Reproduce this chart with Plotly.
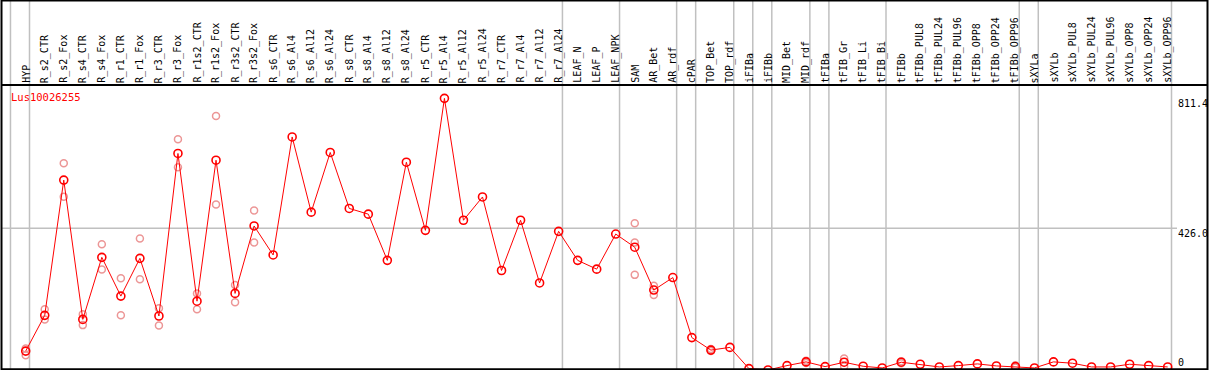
import plotly.graph_objects as go

categories = ["HYP", "R_s2_CTR", "R_s2_Fox", "R_s4_CTR", "R_s4_Fox", "R_r1_CTR", "R_r1_Fox",
              "R_r3_CTR", "R_r3_Fox", "R_r1s2_CTR", "R_r1s2_Fox", "R_r3s2_CTR", "R_r3s2_Fox",
              "R_s6_CTR", "R_s6_Al4", "R_s6_Al12", "R_s6_Al24", "R_s8_CTR", "R_s8_Al4",
              "R_s8_Al12", "R_s8_Al24", "R_r5_CTR", "R_r5_Al4", "R_r5_Al12", "R_r5_Al24",
              "R_r7_CTR", "R_r7_Al4", "R_r7_Al12", "R_r7_Al24", "LEAF_N", "LEAF_P", "LEAF_NPK",
              "SAM", "AR_Bet", "AR_rdf", "cPAR", "TOP_Bet", "TOP_rdf", "iFIBa", "iFIBb",
              "MID_Bet", "MID_rdf", "tFIBa", "tFIB_Gr", "tFIB_Li", "tFIB_Bi", "tFIBb",
              "tFIBb_PUL8", "tFIBb_PUL24", "tFIBb_PUL96", "tFIBb_OPP8", "tFIBb_OPP24",
              "tFIBb_OPP96", "sXYLa", "sXYLb", "sXYLb_PUL8", "sXYLb_PUL24", "sXYLb_PUL96",
              "sXYLb_OPP8", "sXYLb_OPP24", "sXYLb_OPP96"]

mean_values = [62, 168, 569, 156, 340, 225, 337, 166, 648, 210, 628, 233, 433,
               347, 697, 474, 651, 485, 468, 331, 622, 420, 811.4, 450, 519,
               301, 450, 264, 417, 331, 305, 409, 370, 243, 280, 102, 65, 73,
               10, 6, 19, 30, 16, 29, 17, 12, 29, 23, 15, 19, 24, 18, 16, 12,
               30, 26, 15, 15, 23, 19, 15]

# replicate values per category (empty where none visible apart from the mean)
replicates = {
    "HYP": [70, 50], "R_s2_CTR": [186, 156], "R_s2_Fox": [619, 520],
    "R_s4_CTR": [171, 139], "R_s4_Fox": [379, 304], "R_r1_CTR": [278, 168],
    "R_r1_Fox": [396, 275], "R_r3_CTR": [189, 138], "R_r3_Fox": [690, 607],
    "R_r1s2_CTR": [233, 186], "R_r1s2_Fox": [759, 497], "R_r3s2_CTR": [258, 207],
    "R_r3s2_Fox": [479, 384], "SAM": [441, 384, 288], "AR_Bet": [256, 228],
    "TOP_Bet": [68, 62], "MID_rdf": [33, 27], "tFIB_Gr": [40, 16],
    "tFIBb": [32, 26], "tFIBb_OPP96": [20, 13],
}

group_ends = [-1, 0, 28, 31, 34, 35, 37, 38, 39, 41, 42, 45, 52, 53, 60]
y_labels = ["811.4", "426.0", "0"]
gene_id = "Lus10026255"

W, H = 1209, 370
x_idx = list(range(len(categories)))
FONT = "DejaVu Sans Mono"

rep_x, rep_y = [], []
for i, c in enumerate(categories):
    for v in replicates.get(c, []):
        rep_x.append(i)
        rep_y.append(v)

fig = go.Figure()
fig.add_trace(go.Scatter(x=rep_x, y=rep_y, mode="markers",
                         marker=dict(symbol="circle-open", size=7, color="rgb(236,150,150)",
                                     line=dict(width=1.5)),
                         hoverinfo="skip"))
fig.add_trace(go.Scatter(x=x_idx, y=mean_values, mode="lines+markers",
                         line=dict(color="red", width=1),
                         marker=dict(symbol="circle-open", size=8, color="red",
                                     line=dict(width=1.6))))

plot_bottom_px, plot_top_px = 369.3, 85
ydom = [(H - plot_bottom_px) / H, (H - plot_top_px) / H]

fig.update_layout(
    width=W, height=H, margin=dict(l=0, r=0, t=0, b=0, autoexpand=False),
    paper_bgcolor="white", plot_bgcolor="white", showlegend=False,
    font=dict(family=FONT, size=10, color="black"),
    xaxis=dict(range=[-1.35, 62.17], domain=[0, 1], showticklabels=False, ticks="",
               showgrid=False, zeroline=False, showline=False, automargin=False),
    yaxis=dict(range=[8, 851], domain=ydom, showgrid=False, zeroline=False,
               showticklabels=False, showline=False, ticks="", automargin=False),
)

shapes = []
for g in group_ends:
    shapes.append(dict(type="line", xref="x", yref="paper", x0=g + 0.2, x1=g + 0.2,
                       y0=ydom[0], y1=1, line=dict(color="#c0c0c0", width=1.5), layer="below"))
shapes.append(dict(type="line", xref="paper", yref="y", x0=1 / W, x1=1177 / W,
                   y0=426, y1=426, line=dict(color="#c0c0c0", width=1.5), layer="below"))
# borders
shapes.append(dict(type="rect", xref="paper", yref="paper", x0=1.5 / W, x1=1207.5 / W,
                   y0=ydom[0], y1=1 - 0.5 / H, line=dict(color="black", width=2)))
shapes.append(dict(type="line", xref="paper", yref="paper", x0=1.5 / W, x1=1207.5 / W,
                   y0=ydom[1], y1=ydom[1], line=dict(color="black", width=2)))
fig.update_layout(shapes=shapes)

annotations = [
    dict(text=gene_id, xref="paper", yref="paper", x=9 / W, y=(H - 97) / H,
         xanchor="left", yanchor="middle", showarrow=False,
         font=dict(family=FONT, size=10.5, color="red")),
    dict(text=y_labels[0], xref="paper", yref="y", x=1176 / W, y=811.4,
         xanchor="left", yanchor="top", showarrow=False, yshift=2),
    dict(text=y_labels[1], xref="paper", yref="y", x=1176 / W, y=426,
         xanchor="left", yanchor="top", showarrow=False, yshift=2),
    dict(text=y_labels[2], xref="paper", yref="paper", x=1176 / W, y=(H - 362) / H,
         xanchor="left", yanchor="middle", showarrow=False),
]
for i, c in enumerate(categories):
    annotations.append(dict(text=c, xref="x", yref="paper", x=i, y=(H - 84) / H,
                            xanchor="center", yanchor="bottom", textangle=-90,
                            showarrow=False, borderpad=0,
                            font=dict(family=FONT, size=10, color="black")))
fig.update_layout(annotations=annotations)

fig.write_html("out.html", config={"displayModeBar": False},
               post_script="document.body.style.margin='0';document.body.style.overflow='hidden';")
